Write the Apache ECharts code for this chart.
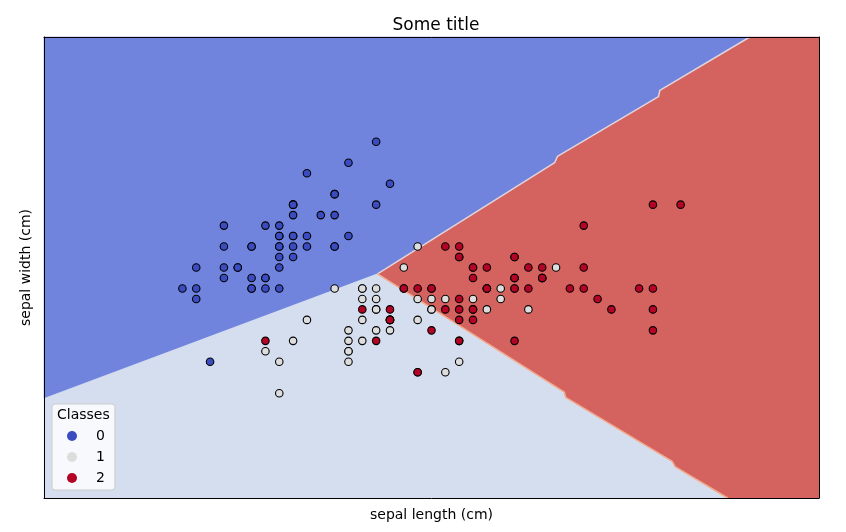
<!DOCTYPE html>
<html>
<head>
<meta charset="utf-8">
<script src="https://cdn.jsdelivr.net/npm/echarts@6/dist/echarts.min.js"></script>
<style>
    html, body { margin: 0; padding: 0; background: #fff; }
    #chart { width: 846px; height: 532px; }
</style>
</head>
<body>
<div id="chart"></div>
<script>
    // iris, first two features (sepal length, sepal width)
    var class0 = [
        [5.1,3.5],[4.9,3.0],[4.7,3.2],[4.6,3.1],[5.0,3.6],[5.4,3.9],[4.6,3.4],[5.0,3.4],[4.4,2.9],[4.9,3.1],
        [5.4,3.7],[4.8,3.4],[4.8,3.0],[4.3,3.0],[5.8,4.0],[5.7,4.4],[5.4,3.9],[5.1,3.5],[5.7,3.8],[5.1,3.8],
        [5.4,3.4],[5.1,3.7],[4.6,3.6],[5.1,3.3],[4.8,3.4],[5.0,3.0],[5.0,3.4],[5.2,3.5],[5.2,3.4],[4.7,3.2],
        [4.8,3.1],[5.4,3.4],[5.2,4.1],[5.5,4.2],[4.9,3.1],[5.0,3.2],[5.5,3.5],[4.9,3.6],[4.4,3.0],[5.1,3.4],
        [5.0,3.5],[4.5,2.3],[4.4,3.2],[5.0,3.5],[5.1,3.8],[4.8,3.0],[5.1,3.8],[4.6,3.2],[5.3,3.7],[5.0,3.3]
    ];
    var class1 = [
        [7.0,3.2],[6.4,3.2],[6.9,3.1],[5.5,2.3],[6.5,2.8],[5.7,2.8],[6.3,3.3],[4.9,2.4],[6.6,2.9],[5.2,2.7],
        [5.0,2.0],[5.9,3.0],[6.0,2.2],[6.1,2.9],[5.6,2.9],[6.7,3.1],[5.6,3.0],[5.8,2.7],[6.2,2.2],[5.6,2.5],
        [5.9,3.2],[6.1,2.8],[6.3,2.5],[6.1,2.8],[6.4,2.9],[6.6,3.0],[6.8,2.8],[6.7,3.0],[6.0,2.9],[5.7,2.6],
        [5.5,2.4],[5.5,2.4],[5.8,2.7],[6.0,2.7],[5.4,3.0],[6.0,3.4],[6.7,3.1],[6.3,2.3],[5.6,3.0],[5.5,2.5],
        [5.5,2.6],[6.1,3.0],[5.8,2.6],[5.0,2.3],[5.6,2.7],[5.7,3.0],[5.7,2.9],[6.2,2.9],[5.1,2.5],[5.7,2.8]
    ];
    var class2 = [
        [6.3,3.3],[5.8,2.7],[7.1,3.0],[6.3,2.9],[6.5,3.0],[7.6,3.0],[4.9,2.5],[7.3,2.9],[6.7,2.5],[7.2,3.6],
        [6.5,3.2],[6.4,2.7],[6.8,3.0],[5.7,2.5],[5.8,2.8],[6.4,3.2],[6.5,3.0],[7.7,3.8],[7.7,2.6],[6.0,2.2],
        [6.9,3.2],[5.6,2.8],[7.7,2.8],[6.3,2.7],[6.7,3.3],[7.2,3.2],[6.2,2.8],[6.1,3.0],[6.4,2.8],[7.2,3.0],
        [7.4,2.8],[7.9,3.8],[6.4,2.8],[6.3,2.8],[6.1,2.6],[7.7,3.0],[6.3,3.4],[6.4,3.1],[6.0,3.0],[6.9,3.1],
        [6.7,3.1],[6.9,3.1],[5.8,2.7],[6.8,3.2],[6.7,3.3],[6.7,3.0],[6.3,2.5],[6.5,3.0],[6.2,3.4],[5.9,3.0]
    ];

    var classNames = ['0', '1', '2'];
    var xRange = [3.3, 8.9];
    var yRange = [1.0, 5.4];

    // decision regions
    var region0 = [[3.3,5.4],[8.40,5.4],[7.75,4.89],[7.74,4.83],[7.01,4.26],[6.99,4.20],[5.71,3.14],[3.3,1.95]];
    var region1 = [[3.3,1.95],[5.71,3.14],[7.06,2.01],[7.07,1.96],[7.84,1.35],[7.86,1.30],[8.24,1.0],[3.3,1.0]];
    var region2 = [[8.40,5.4],[8.9,5.4],[8.9,1.0],[8.24,1.0],[7.86,1.30],[7.84,1.35],[7.07,1.96],[7.06,2.01],
                   [5.71,3.14],[6.99,4.20],[7.01,4.26],[7.74,4.83],[7.75,4.89]];
    var edge02 = [[5.71,3.14],[6.99,4.20],[7.01,4.26],[7.74,4.83],[7.75,4.89],[8.40,5.4]];
    var edge12 = [[5.71,3.14],[7.06,2.01],[7.07,1.96],[7.84,1.35],[7.86,1.30],[8.24,1.0]];

    var regions = [region0, region1, region2];
    var regionColors = ['#7084dd', '#d5deef', '#d4625e'];
    var pointColors = ['#3b4cc0', '#dddddd', '#b40426'];

    var chart = echarts.init(document.getElementById('chart'), null, { renderer: 'canvas' });

    function hiddenAxis(pos, range, extra) {
        var ax = {
            type: 'value',
            position: pos,
            min: range[0],
            max: range[1],
            z: 10,
            axisLine: { show: true, onZero: false, lineStyle: { color: '#000', width: 1 } },
            axisTick: { show: false },
            axisLabel: { show: false },
            splitLine: { show: false }
        };
        return Object.assign(ax, extra || {});
    }

    var series = [{
        type: 'custom',
        silent: true,
        z: 1,
        data: [0, 1, 2],
        renderItem: function (params, api) {
            var pts = regions[params.dataIndex].map(function (p) { return api.coord(p); });
            return {
                type: 'polygon',
                shape: { points: pts },
                style: { fill: regionColors[params.dataIndex], stroke: regionColors[params.dataIndex], lineWidth: 0.5 }
            };
        }
    }, {
        type: 'line',
        silent: true,
        z: 2,
        data: edge02,
        symbol: 'none',
        lineStyle: { color: '#e0d4de', width: 1.5 }
    }, {
        type: 'line',
        silent: true,
        z: 2,
        data: edge12,
        symbol: 'none',
        lineStyle: { color: '#f4ab8e', width: 1.5 }
    }];

    [class0, class1, class2].forEach(function (pts, i) {
        series.push({
            name: classNames[i],
            type: 'scatter',
            z: 3,
            data: pts,
            symbol: 'circle',
            symbolSize: 7.5,
            itemStyle: { color: pointColors[i], borderColor: '#000', borderWidth: 1.1, opacity: 1 }
        });
    });

    chart.setOption({
        animation: false,
        textStyle: { fontFamily: 'DejaVu Sans' },
        title: {
            text: 'Some title',
            left: 431,
            top: 12,
            textAlign: 'center',
            textStyle: { fontSize: 17, fontWeight: 'normal', color: '#000', fontFamily: 'DejaVu Sans' }
        },
        grid: { left: 44, right: 27, top: 37, bottom: 34 },
        xAxis: [
            hiddenAxis('bottom', xRange, {
                name: 'sepal length (cm)',
                nameLocation: 'middle',
                nameGap: 10,
                nameTextStyle: { fontSize: 14, color: '#000', fontFamily: 'DejaVu Sans' }
            }),
            hiddenAxis('top', xRange)
        ],
        yAxis: [
            hiddenAxis('left', yRange, {
                name: 'sepal width (cm)',
                nameLocation: 'middle',
                nameGap: 11,
                nameTextStyle: { fontSize: 14, color: '#000', fontFamily: 'DejaVu Sans' }
            }),
            hiddenAxis('right', yRange)
        ],
        legend: {
            data: classNames,
            orient: 'vertical',
            left: 52,
            bottom: 42,
            padding: [25, 10, 5, 15],
            itemWidth: 10,
            itemHeight: 10,
            itemGap: 7,
            icon: 'circle',
            backgroundColor: 'rgba(255,255,255,0.8)',
            borderColor: '#cccccc',
            borderWidth: 1,
            borderRadius: 3,
            itemStyle: { borderWidth: 0 },
            textStyle: { fontSize: 14, color: '#000', padding: [0, 0, 0, 14], fontFamily: 'DejaVu Sans' }
        },
        graphic: [{
            type: 'text',
            left: 57,
            top: 408,
            z: 100,
            style: { text: 'Classes', fontSize: 14, fill: '#000', fontFamily: 'DejaVu Sans' }
        }],
        series: series
    });
</script>
</body>
</html>
